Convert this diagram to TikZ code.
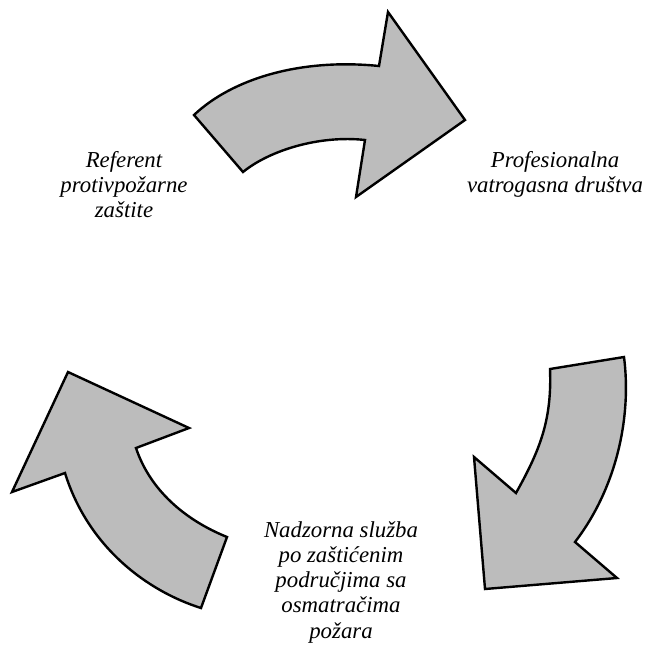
\documentclass[tikz,border=0pt]{standalone}
\usepackage{fontspec}
\setmainfont{Liberation Serif}
\definecolor{arrowgray}{RGB}{188,188,188}
\begin{document}
\begin{tikzpicture}[x=1pt,y=-1pt,
  arrowshape/.style={fill=arrowgray,draw=black,line width=2.4pt,line join=miter},
  lbl/.style={font=\fontsize{22.8}{25.3}\selectfont\itshape,align=center,inner sep=0pt,anchor=north}]
\useasboundingbox (0,0) rectangle (647,645);
% top arrow
\draw[arrowshape] (194,115) .. controls (232,79) and (300,58) .. (379,66)
  -- (388,12) -- (465,120) -- (356,197) -- (365,140)
  .. controls (320,135) and (270,150) .. (243,172) -- cycle;
% right arrow
\draw[arrowshape] (624,357) -- (550,369)
  .. controls (552,420) and (540,450) .. (516,493)
  -- (474,457) -- (485,589) -- (617,578) -- (575,542)
  .. controls (615,490) and (632,420) .. cycle;
% left arrow
\draw[arrowshape] (68,372) -- (189,428) -- (136,448)
  .. controls (150,490) and (185,520) .. (227,537)
  -- (201,608)
  .. controls (147,591) and (88,547) .. (65,473)
  -- (12,492) -- cycle;
% labels
\node[lbl] (ref) at (124,151) {Referent\\protivpožarne\\zaštite};
\node[lbl] (prof) at (555,151) {Profesionalna\\vatrogasna društva};
\node[lbl] (nadz) at (341,521) {Nadzorna služba\\po zaštićenim\\područjima sa\\osmatračima\\požara};
\end{tikzpicture}
\end{document}
